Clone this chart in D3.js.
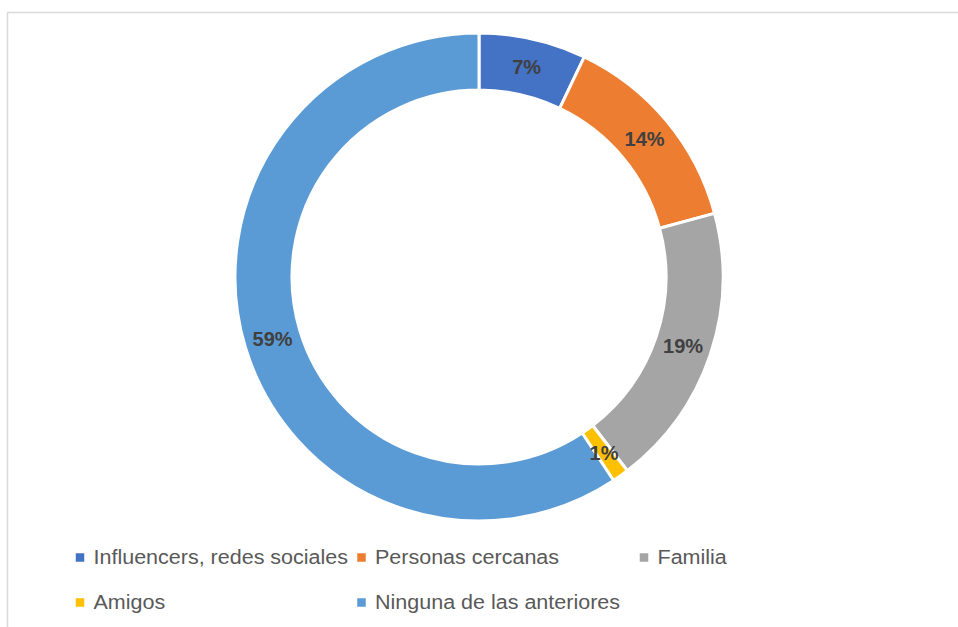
<!DOCTYPE html>
<html><head><meta charset="utf-8">
<script src="https://cdn.jsdelivr.net/npm/d3@7"></script>
<style>body{margin:0;background:#fff;}svg{display:block;}</style>
</head><body>
<svg id="c" width="958" height="627"></svg>
<script>
const categories = ["Influencers, redes sociales","Personas cercanas","Familia","Amigos","Ninguna de las anteriores"];
const values = [7.1, 13.7, 18.8, 1.1, 59.3];
const labels = ["7%","14%","19%","1%","59%"];
const colors = ["#4472C4","#ED7D31","#A5A5A5","#FFC000","#5B9BD5"];

const svg = d3.select("#c");
// chart area border
svg.append("path").attr("d","M7.5,627 V12.5 H958").attr("fill","none").attr("stroke","#d9d9d9").attr("stroke-width",1.5);

const cx = 479, cy = 277, R = 244, r = 187;
const data = categories.map((c,i)=>({c, v: values[i], l: labels[i], col: colors[i]}));
const pie = d3.pie().value(d=>d.v).sort(null);
const arc = d3.arc().innerRadius(r).outerRadius(R);
const labArc = d3.arc().innerRadius((R+r)/2).outerRadius((R+r)/2);
const g = svg.append("g").attr("transform",`translate(${cx},${cy})`);
const arcs = pie(data);
g.selectAll("path.s").data(arcs).enter().append("path").attr("class","s")
 .attr("d",arc).attr("fill",d=>d.data.col).attr("stroke","#fff").attr("stroke-width",3);
g.selectAll("text.l").data(arcs).enter().append("text").attr("class","l")
 .attr("transform",d=>`translate(${labArc.centroid(d)})`)
 .attr("text-anchor","middle").attr("dominant-baseline","central")
 .attr("font-family","'Liberation Sans', Arial, sans-serif").attr("font-weight","bold")
 .attr("font-size",20).attr("fill","#404040").text(d=>d.data.l);

// legend
const legPos = [[80,557.5],[361.5,557.5],[644,557.5],[80,602.5],[361.5,602.5]];
const lg = svg.append("g");
data.forEach((d,i)=>{
  const [x,y] = legPos[i];
  lg.append("rect").attr("x",x-4.25).attr("y",y-4.25).attr("width",8.5).attr("height",8.5).attr("fill",d.col);
  const t = lg.append("text").attr("x",x+13.5).attr("y",y+6.8)
    .attr("font-family","'Liberation Sans', Arial, sans-serif")
    .attr("font-size",20).attr("fill","#595959").text(d.c);
  // stretch slightly to match the reference's glyph run lengths
  const w = t.node().getComputedTextLength();
  t.attr("textLength", w*1.075).attr("lengthAdjust","spacingAndGlyphs");
});
</script>
</body></html>
